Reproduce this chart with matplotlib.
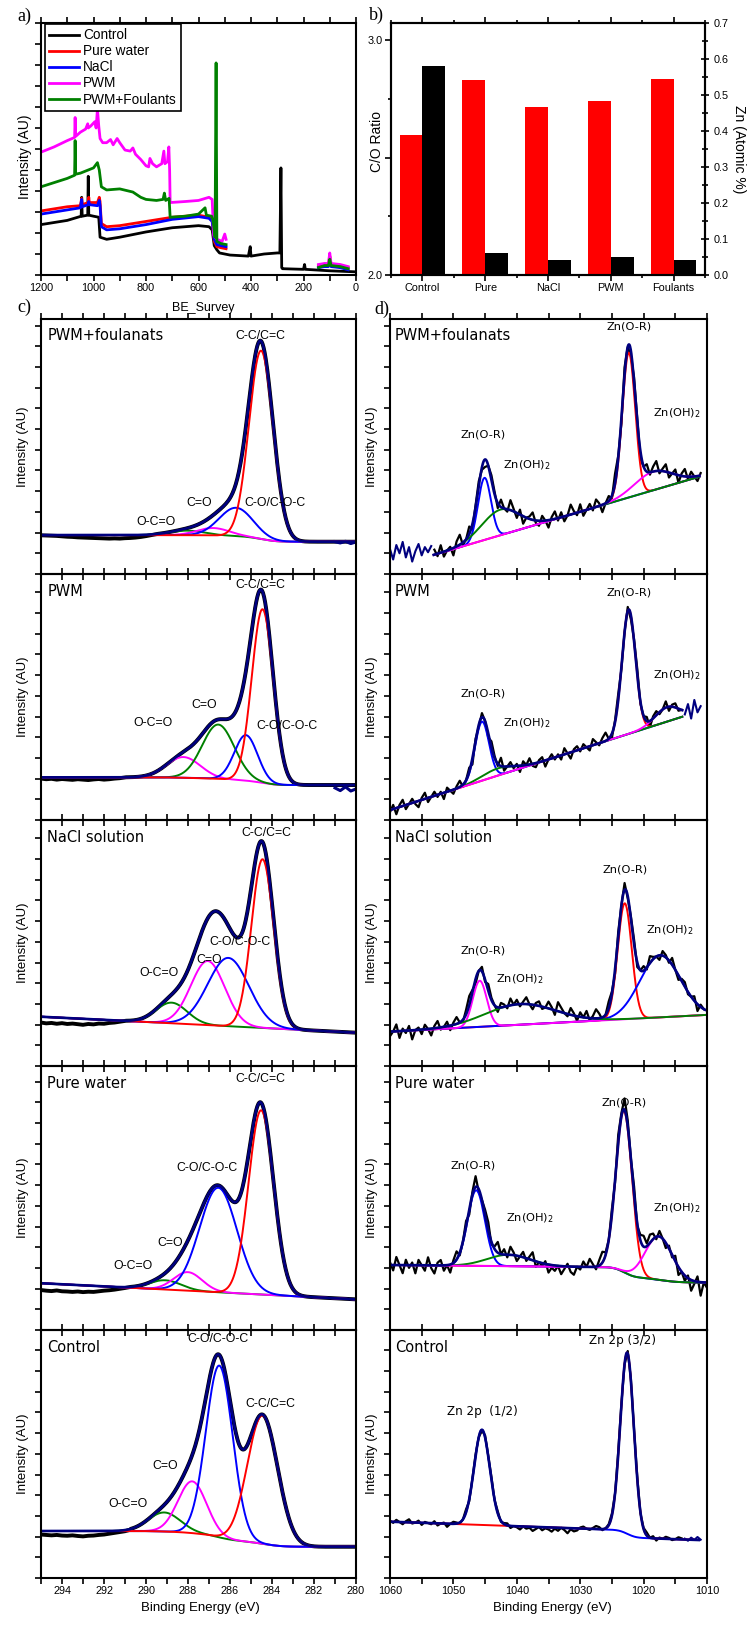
import numpy as np
import matplotlib
matplotlib.use("Agg")
import matplotlib.pyplot as plt
from matplotlib.ticker import MultipleLocator, FormatStrFormatter

W, H = 754, 1639
gap = np.nan

# ---------------- a) survey spectra (BE in eV, intensity in tick units)
survey_labels = ['Control', 'Pure water', 'NaCl', 'PWM', 'PWM+Foulants']

control_be = [1200, 1100, 1060, 1047, 1045, 1043, 1022, 1020, 1018, 1000,
              980, 975, 950, 900, 800, 700, 600, 560, 548, 540,
              530, 520, 480, 410, 403, 400, 350, 300, 290, 286,
              283, 280, 200, 196, 193, 100, 0]
control_y = [2.4, 2.6, 2.75, 2.8, 3.7, 2.8, 2.85, 4.7, 2.85, 2.8,
             2.75, 1.8, 1.7, 1.8, 2.05, 2.25, 2.35, 2.3, 2.15, 1.4,
             1.2, 1.05, 0.95, 0.9, 1.35, 0.9, 1.0, 1.05, 1.05, 5.1,
             0.35, 0.3, 0.27, 0.5, 0.27, 0.2, 0.15]

pure_be = [1200, 1100, 1050, 1045, 1043, 1020, 1018, 1016, 985, 978,
           975, 970, 950, 900, 800, 700, 600, 560, 548, 540,
           530, 515, 495, gap, 143, 120, 105, 100, 95, 60, 30]
pure_y = [3.05, 3.25, 3.3, 3.65, 3.35, 3.45, 3.7, 3.45, 3.45, 3.7,
          3.5, 2.45, 2.3, 2.35, 2.55, 2.75, 2.85, 2.75, 2.6, 1.6,
          1.35, 1.3, 1.25, gap, 0.45, 0.5, 0.5, 0.9, 0.5, 0.45, 0.35]

nacl_be = pure_be
nacl_y = [2.9, 3.1, 3.2, 3.6, 3.25, 3.35, 3.5, 3.35, 3.3, 3.55,
          3.3, 2.3, 2.15, 2.2, 2.4, 2.65, 2.78, 2.7, 2.55, 1.7,
          1.45, 1.4, 1.35, gap, 0.35, 0.4, 0.4, 0.7, 0.4, 0.35, 0.25]

pwm_be = [1200, 1150, 1100, 1072, 1070, 1068, 1050, 1030, 1022, 1020,
          1010, 995, 990, 985, 980, 975, 965, 950, 935, 925,
          910, 900, 880, 860, 850, 840, 820, 800, 790, 785,
          775, 760, 740, 732, 728, 718, 713, 710, 708, 650,
          600, 560, 548, 542, 530, 510, 500, 495, gap, 143,
          120, 105, 100, 95, 60, 30]
pwm_y = [5.85, 6.1, 6.4, 6.55, 7.5, 6.6, 6.8, 6.95, 7.2, 7.0,
         7.1, 7.3, 7.0, 7.9, 7.1, 6.5, 6.3, 6.3, 6.45, 6.2,
         6.5, 6.3, 5.95, 5.9, 6.05, 5.75, 5.5, 5.2, 5.15, 5.55,
         5.3, 5.15, 5.3, 5.9, 5.3, 5.4, 6.1, 5.0, 3.45, 3.5,
         3.55, 3.7, 3.6, 1.9, 1.7, 1.6, 1.95, 1.7, gap, 0.5,
         0.55, 0.55, 1.05, 0.55, 0.5, 0.4]

foul_be = [1200, 1100, 1072, 1070, 1068, 1050, 1020, 1000, 985, 978,
           970, 950, 900, 850, 820, 800, 760, 735, 730, 725,
           712, 708, 650, 600, 575, 570, 550, 545, 537, 533,
           530, 515, 495, gap, 143, 120, 105, 100, 95, 60, 30]
foul_y = [4.2, 4.6, 4.75, 6.4, 4.8, 4.85, 5.0, 5.1, 5.35, 5.0,
          4.2, 4.05, 4.1, 3.95, 3.7, 3.6, 3.55, 3.6, 3.9, 3.55,
          3.65, 2.75, 2.8, 2.9, 3.2, 2.85, 2.8, 2.6, 1.8, 10.1,
          1.6, 1.5, 1.45, gap, 0.35, 0.45, 0.45, 0.75, 0.45, 0.4, 0.3]

# ---------------- b) C/O ratio and Zn content
bar_samples = ['Control', 'Pure', 'NaCl', 'PWM', 'Foulants']
co_ratio = [2.594, 2.831, 2.714, 2.739, 2.834]
zn_atomic = [0.58, 0.061, 0.041, 0.05, 0.041]

# ---------------- c) C 1s fits, panels top to bottom
panel_names = ['PWM+foulanats', 'PWM', 'NaCl solution', 'Pure water', 'Control']

cc_pos = [284.52, 284.45, 284.45, 284.52, 284.45]
cc_amp = [9.1, 8.39, 8.15, 8.9, 6.2]
cc_fwhm = [1.35, 1.2, 1.25, 1.4, 1.7]
co_pos = [285.71, 285.24, 286.08, 286.56, 286.51]
co_amp = [1.37, 2.2, 3.3, 5.05, 8.3]
co_fwhm = [1.9, 1.3, 2.3, 2.1, 1.5]
ceo_pos = [286.8, 286.56, 287.06, 288.01, 287.8]
ceo_amp = [0.36, 2.63, 3.1, 0.9, 2.5]
ceo_fwhm = [1.8, 1.8, 1.9, 1.6, 1.6]
oco_pos = [288.06, 288.22, 288.78, 289.08, 289.13]
oco_amp = [0.22, 1.0, 1.0, 0.45, 0.92]
oco_fwhm = [2.0, 1.9, 1.75, 1.8, 1.8]

c1s_lin_hi = [0.56, 0.69, 1.38, 1.26, 0.51]   # at 295 eV
c1s_lin_lo = [0.56, 0.69, 0.61, 0.48, 0.51]   # at 280 eV
c1s_step = [0.32, 0.37, 0.0, 0.0, 0.76]

# raw data at the high-BE end, every 0.25 eV from 295 eV
c1s_raw_foul = [0.87, 0.86, 0.85, 0.84, 0.82, 0.80, 0.79, 0.77, 0.76, 0.75, 0.74, 0.73,
                0.72, 0.71, 0.72, 0.71, 0.73, 0.74, 0.76, 0.79, 0.83, 0.88, 0.93]
c1s_raw_pwm = [1.0, 0.97, 0.99, 0.95, 0.98, 0.96, 0.94, 0.97, 0.95, 0.93, 0.96, 0.98,
               0.95, 0.97, 1.0, 1.02, 1.06]
c1s_raw_nacl = [1.1, 1.06, 1.08, 1.04, 1.07, 1.03, 1.05, 1.02, 0.99, 1.03, 1.01, 1.05,
                1.04, 1.08, 1.1, 1.14, 1.18]
c1s_raw_pure = [0.93, 0.9, 0.88, 0.91, 0.87, 0.86, 0.84, 0.86, 0.83, 0.85, 0.84, 0.87,
                0.9, 0.92, 0.95, 0.99, 1.03, 1.08]
c1s_raw_ctrl = [1.1, 1.08, 1.06, 1.08, 1.05, 1.04, 1.06, 1.03, 1.01, 1.04, 1.05, 1.08,
                1.1, 1.14, 1.18, 1.22, 1.26, 1.33]
# raw data past the fit at the low-BE end, 281 -> 280 eV
c1s_tail_foul = [0.56, 0.5, 0.58, 0.47, 0.55]
c1s_tail_pwm = [0.55, 0.42, 0.6, 0.4, 0.5]

# ---------------- d) Zn 2p fits, panels top to bottom
znL_pos = [1045.1, 1045.5, 1045.85, 1046.4, 1045.5]
znL_amp = [3.0, 2.85, 2.23, 3.65, 4.6]
znL_fwhm = [2.4, 2.6, 2.6, 3.2, 2.9]
ohL_pos = [1042.6, 1043.0, 1039.5, 1041.3, 1040.0]
ohL_amp = [1.24, 0.35, 1.0, 0.55, 0.0]
ohL_fwhm = [7.0, 6.0, 13.0, 8.0, 8.0]
znR_pos = [1022.35, 1022.35, 1022.98, 1023.1, 1022.6]
znR_amp = [7.0, 6.0, 5.6, 7.8, 8.75]
znR_fwhm = [2.4, 2.5, 2.6, 3.0, 2.5]
ohR_pos = [1018.5, 1016.3, 1017.4, 1017.6, 1017.0]
ohR_amp = [0.9, 0.7, 3.0, 2.1, 0.0]
ohR_fwhm = [7.0, 4.5, 7.5, 5.0, 5.0]

zn_lin_hi = [-0.70, -0.52, 0.66, 1.44, 1.37]  # at 1060 eV
zn_lin_lo = [3.81, 4.37, 1.47, 1.29, 0.82]    # at 1010 eV
zn_step = [0.0, 0.0, 0.0, 0.7, 0.35]
zn_fit_hi = [1053.1, 1060.0, 1060.0, 1060.0, 1060.0]
zn_fit_lo = [1011.2, 1013.9, 1010.3, 1010.0, 1011.3]
zn_data_hi = [1053.0, 1060.0, 1060.0, 1060.0, 1060.0]

# raw-minus-fit residuals, every 0.5 eV from zn_data_hi
zn_noise_foul = [2, -1, 3, -2, 0, 1, -3, 2, 4, -1, 0, 3, -2, 1, 2, -1, -3, 0, 2, 1,
                 -2, 3, 0, -1, 4, 1, -2, 2, -3, 0, 1, 3, -1, -2, 2, 0, -3, 1, 3, -1,
                 2, -2, 0, 4, 1, -1, 3, -2, 0, 2, -1, 3, 1, -3, 0, 2, -1, 4, 1, -2,
                 3, 0, -2, 2, 1, -3, 0, 3, -1, 2, 4, -1, 1, 3, -2, 0, 2, -3, 1, 3,
                 -1, 2, 0, -2, 1]
zn_noise_pwm = [-1, 2, -3, 1, 3, -2, 0, 2, -1, -3, 1, 3, -2, 0, 2, -1, 1, -3, 2, 0,
                -2, 1, 3, -1, 0, 2, -3, 1, -1, 2, 0, -2, 3, 1, -1, 4, -2, 0, 2, -1,
                1, -3, 2, 0, 3, -1, -2, 1, 2, -3, 0, 2, -1, 1, -2, 3, 0, -3, 1, 2,
                -1, 2, 0, -2, 3, 1, -1, 2, 4, 0, -2, 1, 3, -1, 0, 2, -2, 1, 3, -1,
                0, 2, -3, 1, 2, -1, 0, 3, -2, 1, 2, -1, 0]
zn_noise_nacl = [-2, 0, 3, -3, 1, -1, 2, -4, 0, 1, -2, 2, 0, -3, 1, 3, -1, 0, 2, -2,
                 1, 3, 0, -1, 2, 4, 1, -2, 0, 2, -1, 3, 1, 0, -2, 2, 1, -1, 3, 0,
                 2, -1, 1, 3, 0, -2, 1, 2, -1, 0, 3, 1, -2, 4, 2, 0, -1, 3, 1, -2,
                 2, 0, 3, -1, 1, 4, 2, -1, 0, 3, 1, -2, 2, 0, 3, -1, 1, 2, -2, 0,
                 2, -1, 3, 1, 0, -2, 2, 1, -1, 3, 0, -2, 1, 2, -1, 0, 2, -3, 1, 0]
zn_noise_pure = [1, -2, 3, 0, -3, 2, -1, 1, -3, 2, 0, -2, 3, -1, -3, 1, 2, -2, 0, -3,
                 1, 3, -1, 0, 2, -2, 1, 4, -1, 0, 2, 3, -1, 1, 4, 0, 2, -1, 3, 1,
                 -2, 0, 2, -1, 1, 3, -2, 0, -1, 1, -3, -1, -2, 0, -3, -1, 1, -2, -3, 0,
                 -1, 2, 0, 3, 1, -1, 2, 4, 1, 0, 2, -1, 3, 1, 4, 2, 0, 3, -1, 2,
                 4, 1, 3, 2, -1, 2, 0, -2, 1, -1, 2, -3, 0, -2, 1, -4, -1, 2, -5, 0,
                 -2]
zn_noise_ctrl = [1, -1, 2, 0, -2, 1, 3, -1, 0, 2, -2, 1, 0, -1, 2, -2, 0, 1, -3, 0,
                 2, 1, -1, 0, 3, -2, 1, 2, 0, -1, 2, 1, 3, 0, 2, -1, 1, 2, -2, 0,
                 -1, -3, 0, -2, -1, -4, -2, 0, -3, -1, -2, -4, -1, -3, 0, -2, -5, -1, -3, -2,
                 1, 2, 0, -1, 1, 3, 2, -1, 0, 1, 2, 0, 3, 1, -1, 2, 1, 0, 2, -1,
                 1, 3, 0, 2, -2, 1, 0, 2, 1, -1, 0, 2, 1]
zn_noise_scale = [0.12, 0.10, 0.11, 0.13, 0.05]

# navy raw segments outside the black data
zn_head_foul = [0.2, -0.3, 0.4, 0.0, 0.55, -0.2, 0.3, -0.4, 0.1, 0.45, -0.1, 0.3, 0.05, 0.35]
zn_tail_pwm = [4.1, 4.6, 3.9, 4.8, 4.2, 4.5]
zn_tail_ctrl = [0.9, 0.8, 0.95, 0.84, 0.98, 0.85]

# ---------------- style
RED, BLUE, MAG, GRN, NAVY = '#ff0000', '#0000ff', '#ff00ff', '#008000', '#00007f'
survey_colors = ['black', RED, BLUE, MAG, GRN]
c1s_colors = [[RED, BLUE, MAG, GRN], [RED, BLUE, GRN, MAG], [RED, BLUE, MAG, GRN],
              [RED, BLUE, MAG, GRN], [RED, BLUE, MAG, GRN]]
zn_colors = [[BLUE, GRN, RED, MAG], [BLUE, GRN, RED, MAG], [MAG, GRN, RED, BLUE],
             [BLUE, GRN, RED, MAG], [BLUE, GRN, RED, MAG]]
zn_order = [[2, 0, 1, 3], [2, 0, 1, 3], [2, 3, 0, 1], [2, 0, 1, 3], [0, 2]]
zn_shirley = [[1, 1, 1, 1], [1, 1, 1, 1], [1, 1, 1, 1], [0, 0, 1, 1], [0, 0, 1, 0]]

c1s_text = [
    [('C-C/C=C', 284.57, 10.5), ('C-O/C-O-C', 283.86, 2.43), ('C=O', 287.48, 2.43), ('O-C=O', 289.52, 1.51)],
    [('C-C/C=C', 284.57, 10.35), ('C-O/C-O-C', 283.29, 3.54), ('C=O', 287.24, 4.56), ('O-C=O', 289.67, 3.69)],
    [('C-C/C=C', 284.29, 10.26), ('C-O/C-O-C', 285.5, 4.98), ('C=O', 287.0, 4.12), ('O-C=O', 289.38, 3.49)],
    [('C-C/C=C', 284.57, 11.13), ('C-O/C-O-C', 287.1, 6.83), ('C=O', 288.86, 3.2), ('O-C=O', 290.62, 2.09)],
    [('C-C/C=C', 284.1, 7.41), ('C-O/C-O-C', 286.57, 10.55), ('C=O', 289.1, 4.41), ('O-C=O', 290.86, 2.57)],
]
zn_text = [
    [('Zn(O-R)', 1045.3, 5.76), ('Zn(OH)$_2$', 1038.4, 4.27), ('Zn(O-R)', 1022.3, 10.98), ('Zn(OH)$_2$', 1014.7, 6.78)],
    [('Zn(O-R)', 1045.3, 5.09), ('Zn(OH)$_2$', 1038.4, 3.69), ('Zn(O-R)', 1022.3, 9.97), ('Zn(OH)$_2$', 1014.7, 6.0)],
    [('Zn(O-R)', 1045.3, 4.6), ('Zn(OH)$_2$', 1039.5, 3.2), ('Zn(O-R)', 1022.9, 8.47), ('Zn(OH)$_2$', 1015.8, 5.57)],
    [('Zn(O-R)', 1046.9, 6.97), ('Zn(OH)$_2$', 1037.9, 4.41), ('Zn(O-R)', 1023.1, 10.01), ('Zn(OH)$_2$', 1014.7, 4.89)],
    [('Zn 2p  (1/2)', 1045.5, 7.02), ('Zn 2p (3/2)', 1023.4, 10.45)],
]

plt.rcParams['font.family'] = ['Liberation Sans', 'DejaVu Sans']
plt.rcParams['axes.linewidth'] = 1.5
plt.rcParams['mathtext.fontset'] = 'dejavusans'


def rect(x0, y0, x1, y1):
    return [x0 / W, 1 - y1 / H, (x1 - x0) / W, (y1 - y0) / H]


def model(e, pos, amp, fwhm, lin_hi, lin_lo, x_hi, x_lo, step, mask):
    peaks = [a * np.exp(-4 * np.log(2) * (e - p) ** 2 / w ** 2)
             for p, a, w in zip(pos, amp, fwhm)]
    bg = lin_hi + (lin_lo - lin_hi) * (x_hi - e) / (x_hi - x_lo)
    if step:
        weight = sum(pk * m for pk, m in zip(peaks, mask))
        cum = np.cumsum(weight[::-1])[::-1]
        bg = bg + step * cum / cum[0]
    return bg, peaks


def spec_axes(ax, xlim, major, minor, height, last):
    ax.set_facecolor('none')
    ax.set_xlim(*xlim)
    ax.set_ylim(-1, height / 20.7 - 1)
    ax.xaxis.set_major_locator(MultipleLocator(major))
    ax.xaxis.set_minor_locator(MultipleLocator(minor))
    ax.yaxis.set_major_locator(MultipleLocator(1))
    ax.tick_params(axis='x', which='both', direction='out', top=True, bottom=True,
                   length=4, width=1.2, labelbottom=last, labelsize=7.8, pad=2)
    ax.tick_params(axis='y', which='both', direction='out', left=True, right=False,
                   labelleft=False, length=4, width=1.2)
    ax.set_ylabel('Intensity (AU)', fontsize=9.5)
    ax.yaxis.set_label_coords(-0.038, 0.5)


fig = plt.figure(figsize=(W / 100, H / 100), dpi=100)

# ---- a) survey
ax_a = fig.add_axes(rect(41, 23, 356, 275))
for be, y, lab, col in zip([control_be, pure_be, nacl_be, pwm_be, foul_be],
                           [control_y, pure_y, nacl_y, pwm_y, foul_y],
                           survey_labels, survey_colors):
    ax_a.plot(be, y, color=col, lw=2.0, label=lab)
ax_a.set_xlim(1200, 0)
ax_a.set_ylim(0, 12)
ax_a.xaxis.set_major_locator(MultipleLocator(200))
ax_a.xaxis.set_minor_locator(MultipleLocator(100))
ax_a.yaxis.set_major_locator(MultipleLocator(1))
ax_a.tick_params(axis='x', which='both', direction='out', top=True, length=4, width=1.2,
                 labelsize=7.8, pad=2)
ax_a.tick_params(axis='y', which='both', direction='out', labelleft=False, length=4, width=1.2)
ax_a.set_ylabel('Intensity (AU)', fontsize=10)
ax_a.yaxis.set_label_coords(-0.029, 0.47)
leg = ax_a.legend(loc='upper left', bbox_to_anchor=(0.012, 0.995), fancybox=False,
                  edgecolor='black', framealpha=1, fontsize=9.8, handlelength=2.2,
                  handletextpad=0.3, labelspacing=0.15, borderpad=0.3, borderaxespad=0)
leg.get_frame().set_linewidth(1.2)

# ---- b) bars
ax_b = fig.add_axes(rect(391, 23, 705, 275))
x = np.arange(len(bar_samples))
ax_b.bar(x - 0.182, co_ratio, width=0.365, color=RED)
ax_b.set_xlim(-0.5, 4.5)
ax_b.set_ylim(2.0, 3.073)
ax_b.set_yticks([2.0, 2.5, 3.0])
ax_b.set_yticklabels(['2.0', '', '3.0'])
ax_b.yaxis.set_minor_locator(MultipleLocator(0.25))
ax_b.set_xticks(x)
ax_b.set_xticklabels(bar_samples)
ax_b.xaxis.set_minor_locator(MultipleLocator(0.5))
ax_b.tick_params(which='both', direction='out', top=True, width=1.2, labelsize=7.8, pad=2)
ax_b.tick_params(which='major', length=4)
ax_b.tick_params(which='minor', length=2.5)
ax_b.set_ylabel('C/O Ratio', fontsize=10)
ax_b.yaxis.set_label_coords(-0.022, 0.53)
ax_r = ax_b.twinx()
ax_r.bar(x + 0.182, zn_atomic, width=0.365, color='black')
ax_r.set_ylim(0, 0.7)
ax_r.yaxis.set_major_locator(MultipleLocator(0.1))
ax_r.yaxis.set_minor_locator(MultipleLocator(0.05))
ax_r.yaxis.set_major_formatter(FormatStrFormatter('%.1f'))
ax_r.tick_params(which='both', direction='inout', width=1.2, labelsize=7.8, pad=3)
ax_r.tick_params(which='major', length=6)
ax_r.tick_params(which='minor', length=4)
ax_r.set_ylabel('Zn (Atomic %)', fontsize=10, rotation=270, va='bottom')
ax_r.yaxis.set_label_coords(1.086, 0.5)

# ---- c) and d) stacked spectra
rows = [319, 574, 820, 1066, 1330, 1578]
c1s_raw = [c1s_raw_foul, c1s_raw_pwm, c1s_raw_nacl, c1s_raw_pure, c1s_raw_ctrl]
c1s_tail = [c1s_tail_foul, c1s_tail_pwm, None, None, None]
zn_noise = [zn_noise_foul, zn_noise_pwm, zn_noise_nacl, zn_noise_pure, zn_noise_ctrl]
zn_head = [zn_head_foul, None, None, None, None]
zn_tail = [None, zn_tail_pwm, None, None, zn_tail_ctrl]

for i in range(5):
    h = rows[i + 1] - rows[i]
    last = i == 4

    # C 1s
    ax = fig.add_axes(rect(41, rows[i], 356, rows[i + 1]))
    spec_axes(ax, (295, 280), 2, 1, h, last)
    e = np.linspace(295, 280, 601)
    pos = [cc_pos[i], co_pos[i], ceo_pos[i], oco_pos[i]]
    amp = [cc_amp[i], co_amp[i], ceo_amp[i], oco_amp[i]]
    fwhm = [cc_fwhm[i], co_fwhm[i], ceo_fwhm[i], oco_fwhm[i]]
    bg, peaks = model(e, pos, amp, fwhm, c1s_lin_hi[i], c1s_lin_lo[i], 295, 280,
                      c1s_step[i], [1, 1, 1, 1])
    env = bg + sum(peaks)
    e_raw = 295 - 0.25 * np.arange(len(c1s_raw[i]))
    keep = e < e_raw[-1]
    ax.plot(np.r_[e_raw, e[keep]], np.r_[c1s_raw[i], env[keep]], color='black', lw=2.8)
    if c1s_tail[i] is not None:
        ax.plot(281 - 0.25 * np.arange(len(c1s_tail[i])), c1s_tail[i], color=NAVY, lw=2.2)
    for k in [3, 2, 1, 0]:
        ax.plot(e, bg + peaks[k], color=c1s_colors[i][k], lw=1.4)
    ax.plot(e, env, color=NAVY, lw=1.9)
    ax.text(0.02, 1 - 17 / h, panel_names[i], transform=ax.transAxes, ha='left',
            va='center', fontsize=10.5, family='DejaVu Sans')
    for lab, bx, by in c1s_text[i]:
        ax.text(bx, by, lab, ha='center', va='center', fontsize=8.8)

    # Zn 2p
    ax = fig.add_axes(rect(390, rows[i], 707, rows[i + 1]))
    spec_axes(ax, (1060, 1010), 10, 5, h, last)
    pos = [znL_pos[i], ohL_pos[i], znR_pos[i], ohR_pos[i]]
    amp = [znL_amp[i], ohL_amp[i], znR_amp[i], ohR_amp[i]]
    fwhm = [znL_fwhm[i], ohL_fwhm[i], znR_fwhm[i], ohR_fwhm[i]]
    args = (pos, amp, fwhm, zn_lin_hi[i], zn_lin_lo[i], 1060, 1010, zn_step[i], zn_shirley[i])
    e_raw = zn_data_hi[i] - 0.5 * np.arange(len(zn_noise[i]))
    bg_raw, pk_raw = model(e_raw, *args)
    raw = bg_raw + sum(pk_raw) + np.array(zn_noise[i]) * zn_noise_scale[i]
    ax.plot(e_raw, raw, color='black', lw=1.6)
    if zn_head[i] is not None:
        ax.plot(1060 - 0.5 * np.arange(len(zn_head[i])), zn_head[i], color=NAVY, lw=1.5)
    if zn_tail[i] is not None:
        ax.plot(e_raw[-1] - 0.5 - 0.5 * np.arange(len(zn_tail[i])), zn_tail[i],
                color=NAVY, lw=1.5)
    e = np.linspace(zn_fit_hi[i], zn_fit_lo[i], 801)
    bg, peaks = model(e, *args)
    for k in zn_order[i]:
        ax.plot(e, bg + peaks[k], color=zn_colors[i][k], lw=1.4)
    ax.plot(e, bg + sum(peaks), color=NAVY, lw=1.9)
    ax.text(0.016, 1 - 17 / h, panel_names[i], transform=ax.transAxes, ha='left',
            va='center', fontsize=10.5, family='DejaVu Sans')
    for lab, bx, by in zn_text[i]:
        ax.text(bx, by, lab, ha='center', va='center', family='DejaVu Sans',
                fontsize=8.6 if last else 8.2)

# panel letters and shared x labels
for lab, px, py in [('a)', 24, 16), ('b)', 376, 15), ('c)', 24, 307), ('d)', 382, 309)]:
    fig.text(px / W, 1 - py / H, lab, ha='center', va='center', fontsize=13,
             family=['Liberation Serif', 'DejaVu Serif'])
fig.text(203 / W, 1 - 308 / H, 'BE_Survey', ha='center', va='center', fontsize=9)
fig.text(200 / W, 1 - 1608 / H, 'Binding Energy (eV)', ha='center', va='center', fontsize=9.5)
fig.text(552 / W, 1 - 1608 / H, 'Binding Energy (eV)', ha='center', va='center', fontsize=9.5)

fig.savefig('out.png', dpi=100)
